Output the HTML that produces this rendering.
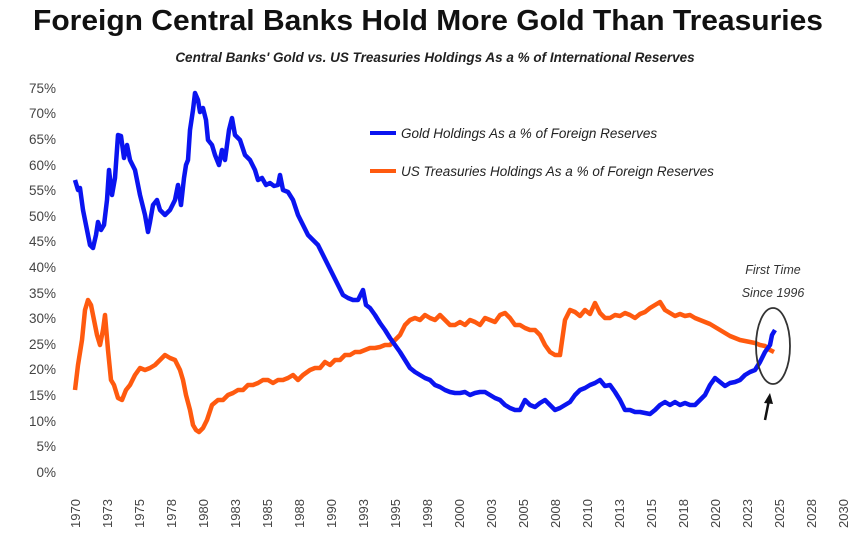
<!DOCTYPE html>
<html><head><meta charset="utf-8"><style>
body{margin:0;background:#fff;}
svg{display:block;font-family:"Liberation Sans",sans-serif;}
</style></head><body>
<svg width="855" height="537" viewBox="0 0 855 537" xmlns="http://www.w3.org/2000/svg">
<text x="428" y="30" text-anchor="middle" font-size="29" font-weight="bold" fill="#111" textLength="790" lengthAdjust="spacingAndGlyphs">Foreign Central Banks Hold More Gold Than Treasuries</text>
<text x="435" y="62" text-anchor="middle" font-size="13.5" font-weight="bold" font-style="italic" fill="#222">Central Banks' Gold vs. US Treasuries Holdings As a % of International Reserves</text>
<g font-size="13.5" fill="#444" text-anchor="end">
<text x="56" y="93">75%</text><text x="56" y="118">70%</text><text x="56" y="144">65%</text><text x="56" y="170">60%</text><text x="56" y="195">55%</text><text x="56" y="221">50%</text><text x="56" y="246">45%</text><text x="56" y="272">40%</text><text x="56" y="298">35%</text><text x="56" y="323">30%</text><text x="56" y="349">25%</text><text x="56" y="374">20%</text><text x="56" y="400">15%</text><text x="56" y="426">10%</text><text x="56" y="451">5%</text><text x="56" y="477">0%</text>
</g>
<g font-size="13" fill="#444">
<text transform="translate(80,528) rotate(-90)">1970</text><text transform="translate(112,528) rotate(-90)">1973</text><text transform="translate(144,528) rotate(-90)">1975</text><text transform="translate(176,528) rotate(-90)">1978</text><text transform="translate(208,528) rotate(-90)">1980</text><text transform="translate(240,528) rotate(-90)">1983</text><text transform="translate(272,528) rotate(-90)">1985</text><text transform="translate(304,528) rotate(-90)">1988</text><text transform="translate(336,528) rotate(-90)">1990</text><text transform="translate(368,528) rotate(-90)">1993</text><text transform="translate(400,528) rotate(-90)">1995</text><text transform="translate(432,528) rotate(-90)">1998</text><text transform="translate(464,528) rotate(-90)">2000</text><text transform="translate(496,528) rotate(-90)">2003</text><text transform="translate(528,528) rotate(-90)">2005</text><text transform="translate(560,528) rotate(-90)">2008</text><text transform="translate(592,528) rotate(-90)">2010</text><text transform="translate(624,528) rotate(-90)">2013</text><text transform="translate(656,528) rotate(-90)">2015</text><text transform="translate(688,528) rotate(-90)">2018</text><text transform="translate(720,528) rotate(-90)">2020</text><text transform="translate(752,528) rotate(-90)">2023</text><text transform="translate(784,528) rotate(-90)">2025</text><text transform="translate(816,528) rotate(-90)">2028</text><text transform="translate(848,528) rotate(-90)">2030</text>
</g>
<polyline fill="none" stroke="#ff5a0f" stroke-width="4.5" stroke-linejoin="round" points="75,390 78,365 82,340 85,310 88,300 91,305 94,320 97,335 100,345 103,330 105,315 108,350 111,380 114,385 118,398 122,400 126,390 130,385 135,375 140,368 145,370 150,368 155,365 160,360 165,355 170,358 175,360 180,370 183,380 186,395 190,410 193,425 196,430 199,432 203,428 207,420 212,405 218,400 223,400 228,395 233,393 238,390 243,390 248,385 253,385 258,383 263,380 268,380 273,383 278,380 283,380 288,378 293,375 298,380 303,375 310,370 315,368 320,368 325,362 330,365 335,360 340,360 345,355 350,355 355,352 360,352 365,350 370,348 375,348 380,347 385,345 390,345 395,340 400,335 405,325 410,320 415,318 420,320 425,315 430,318 435,320 440,315 445,320 450,325 455,325 460,322 465,325 470,320 475,322 480,325 485,318 490,320 495,322 500,315 505,313 510,318 515,325 520,325 525,328 530,330 535,330 540,335 545,345 550,352 555,355 560,355 565,320 570,310 575,312 580,316 585,310 590,314 595,303 600,313 605,318 610,318 615,315 620,316 625,313 630,315 635,318 640,314 645,312 650,308 655,305 660,302 665,310 670,313 675,316 680,314 685,316 690,315 695,318 700,320 705,322 710,324 715,327 720,330 725,333 730,336 735,338 740,340 745,341 750,342 755,343 760,345 765,346 770,350 774,352"/>
<polyline fill="none" stroke="#0a14f0" stroke-width="4.5" stroke-linejoin="round" points="75,180 78,190 80,188 83,210 86,225 90,245 93,248 96,235 98,222 101,230 104,225 107,200 109,170 112,195 115,178 118,135 121,136 124,158 127,145 130,160 135,170 140,195 145,215 148,232 150,222 153,205 157,200 160,210 165,215 170,210 175,200 178,185 181,205 184,178 186,165 188,160 190,130 193,110 195,93 198,100 200,112 203,108 206,120 208,140 212,145 215,155 219,165 222,150 225,160 229,130 232,118 235,135 240,140 245,155 250,160 255,170 258,180 262,178 266,185 270,183 274,186 278,185 280,175 283,190 288,192 293,200 298,215 303,225 308,235 313,240 318,245 323,255 328,265 333,275 338,285 343,295 348,298 353,300 358,300 363,290 366,305 370,308 375,315 380,323 385,330 390,338 395,345 400,352 405,360 410,368 415,372 420,375 425,378 430,380 435,385 440,387 445,390 450,392 455,393 460,393 465,392 470,395 475,393 480,392 485,392 490,395 495,398 500,400 505,405 510,408 515,410 520,410 525,400 530,405 535,407 540,403 545,400 550,405 555,410 560,408 565,405 570,402 575,395 580,390 585,388 590,385 595,383 600,380 605,386 610,385 615,392 620,400 625,410 630,410 635,412 640,412 645,413 650,414 655,410 660,405 665,402 670,405 675,402 680,405 685,403 690,405 695,405 700,400 705,395 710,385 715,378 720,382 725,386 730,383 735,382 740,380 745,375 750,372 755,370 760,362 765,352 770,345 772,335 775,330"/>
<line x1="370" y1="133" x2="396" y2="133" stroke="#0a14f0" stroke-width="4"/>
<text x="401" y="138" font-size="13.5" font-style="italic" fill="#222">Gold Holdings As a % of Foreign Reserves</text>
<line x1="370" y1="171" x2="396" y2="171" stroke="#ff5a0f" stroke-width="4"/>
<text x="401" y="176" font-size="13.5" font-style="italic" fill="#222">US Treasuries Holdings As a % of Foreign Reserves</text>
<text x="773" y="274" text-anchor="middle" font-size="12.5" font-style="italic" fill="#333">First Time</text>
<text x="773" y="297" text-anchor="middle" font-size="12.5" font-style="italic" fill="#333">Since 1996</text>
<ellipse cx="773" cy="346" rx="17" ry="38" fill="none" stroke="#333" stroke-width="1.8"/>
<line x1="765" y1="420" x2="769" y2="400" stroke="#111" stroke-width="2.5"/>
<polygon points="770,393 764,403 773,404" fill="#111"/>
</svg>
</body></html>
